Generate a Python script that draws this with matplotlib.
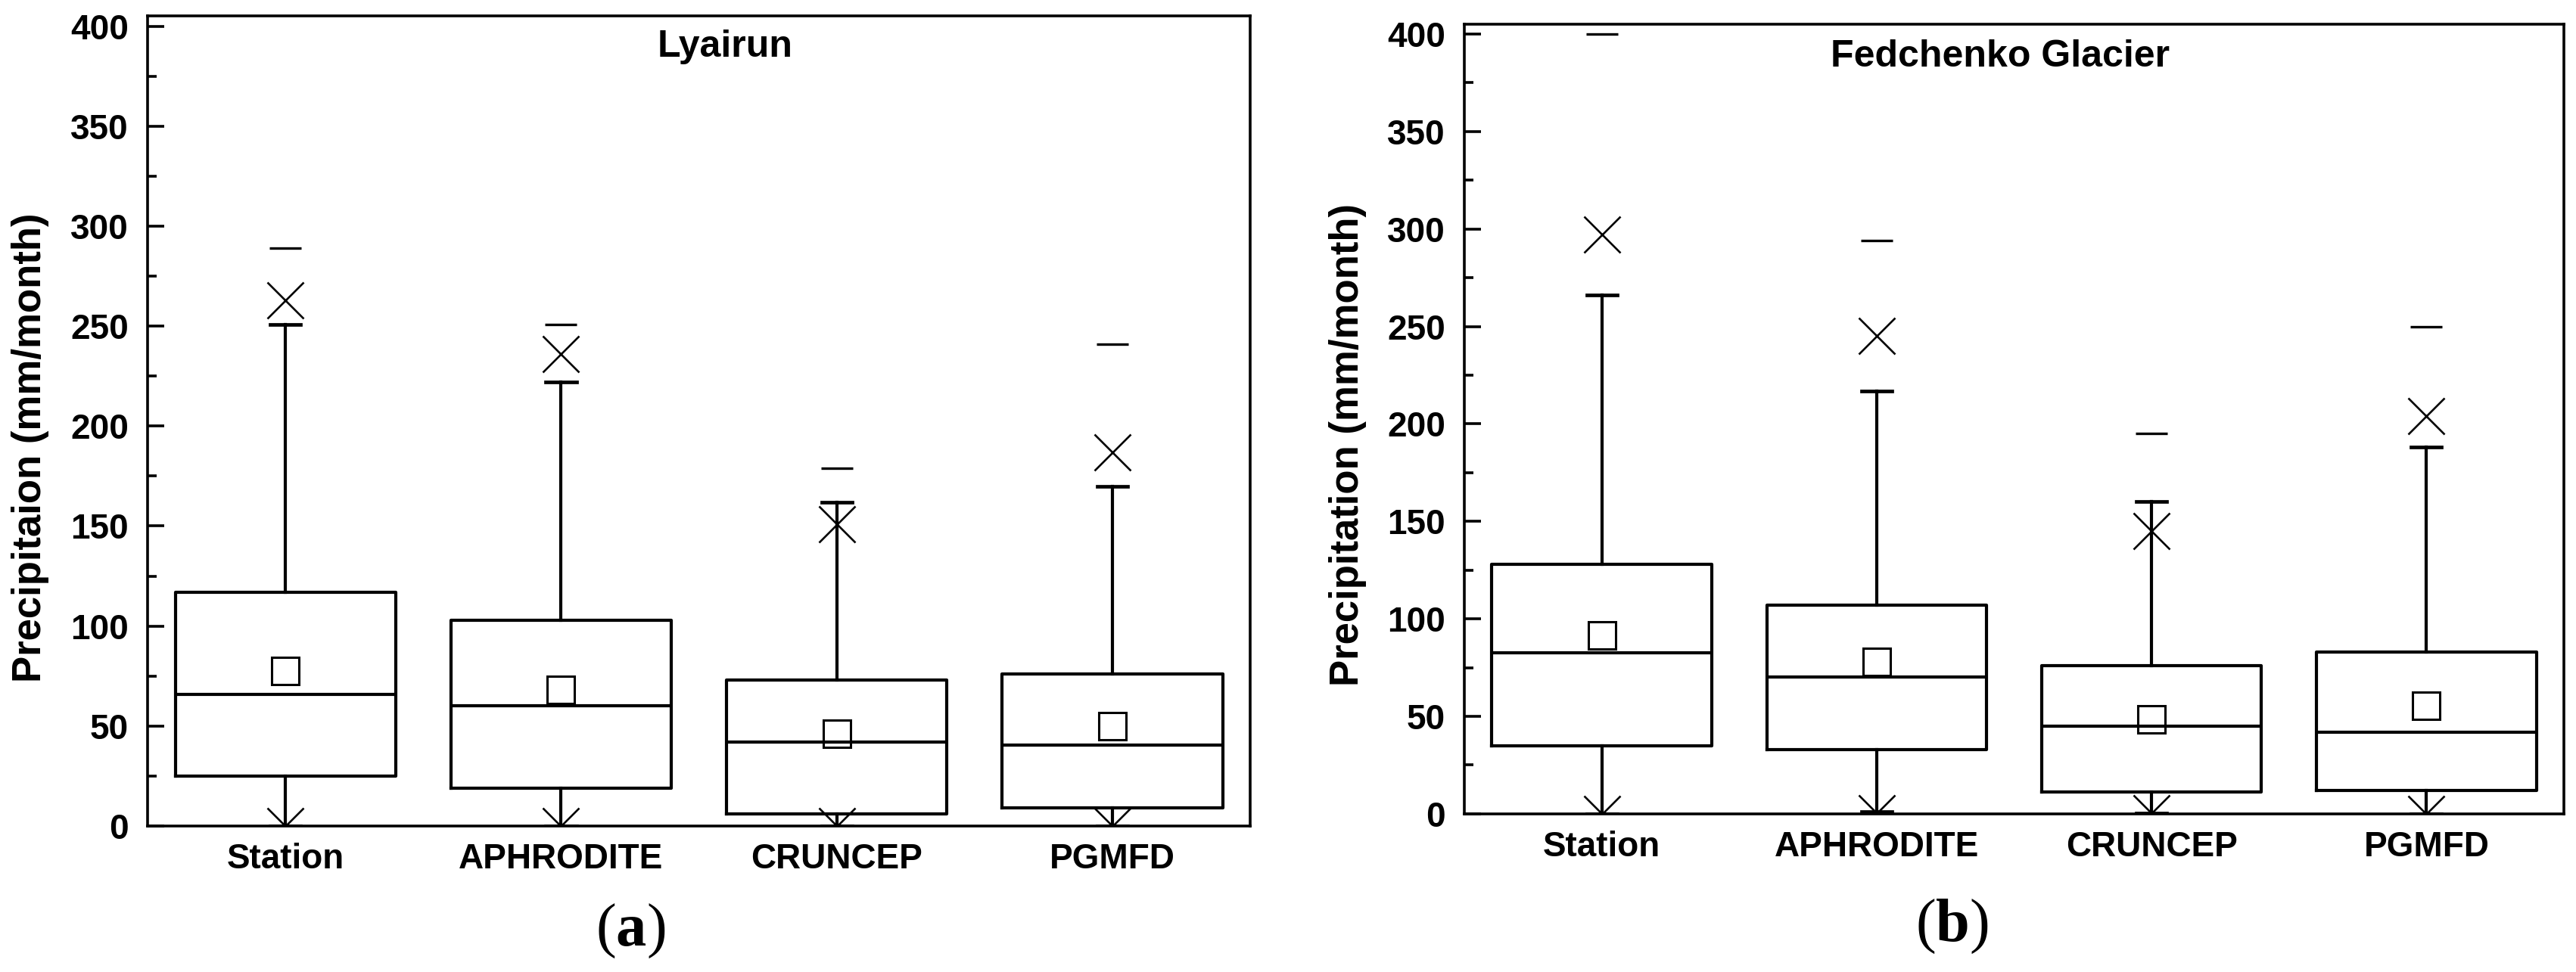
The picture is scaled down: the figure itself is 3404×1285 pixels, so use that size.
import numpy as np
import matplotlib
matplotlib.use("Agg")
import matplotlib.pyplot as plt
from matplotlib.ticker import MultipleLocator

# data (mm/month)
categories = ["Station", "APHRODITE", "CRUNCEP", "PGMFD"]

# (a) Lyairun
lya_q1 = [25, 19, 6, 9]
lya_med = [66, 60, 42, 40.5]
lya_q3 = [117, 103, 73, 76]
lya_mean = [77.5, 68, 46, 50]
lya_whislo = [0, 0, 0, 0]
lya_whishi = [251, 222, 162, 170]
lya_p01 = [0, 0, 0, 0]
lya_p99 = [263, 236, 151, 187]
lya_min = [0, 0, 0, 0]
lya_max = [289, 251, 179, 241]

# (b) Fedchenko Glacier
fed_q1 = [35, 33, 11, 12]
fed_med = [82.5, 70, 45, 42]
fed_q3 = [128, 107, 76, 83]
fed_mean = [91.5, 78, 48.5, 55.5]
fed_whislo = [0, 1, 0.5, 0]
fed_whishi = [266, 217, 160, 188]
fed_p01 = [0, 0.5, 0.5, 0]
fed_p99 = [297, 245, 145, 204]
fed_min = [0, 0.5, 0, 0]
fed_max = [400, 294, 195, 250]

plt.rcParams["font.family"] = ["Liberation Sans", "DejaVu Sans"]
plt.rcParams["font.weight"] = "bold"
plt.rcParams["mathtext.fontset"] = "custom"
plt.rcParams["mathtext.rm"] = "Liberation Serif"
plt.rcParams["mathtext.bf"] = "Liberation Serif:bold"


def draw_panel(ax, q1, med, q3, mean, wlo, whi, p01, p99, vmin, vmax,
               title, title_x, title_y, ylabel):
    pos = np.arange(1, len(categories) + 1)
    stats = []
    for i in range(len(categories)):
        stats.append(dict(q1=q1[i], med=med[i], q3=q3[i], mean=mean[i],
                          whislo=wlo[i], whishi=whi[i], fliers=[]))
    ax.bxp(stats, positions=pos, widths=0.8, showmeans=True, showfliers=False,
           capwidths=0.11,
           boxprops=dict(lw=3.0, color="k"),
           medianprops=dict(lw=3.0, color="k"),
           whiskerprops=dict(lw=3.0, color="k"),
           capprops=dict(lw=3.4, color="k"),
           meanprops=dict(marker="s", ms=26, mfc="none", mec="k", mew=2.2))
    # 1st / 99th percentiles and min / max
    ax.plot(pos, p99, ls="none", marker="x", ms=34, mew=1.9, color="k")
    ax.plot(pos, p01, ls="none", marker="x", ms=34, mew=1.9, color="k")
    ax.plot(pos, vmax, ls="none", marker="_", ms=30, mew=2.4, color="k")
    ax.plot(pos, vmin, ls="none", marker="_", ms=30, mew=2.4, color="k")

    ax.set_xlim(0.5, len(categories) + 0.5)
    ax.set_ylim(0, 405)
    ax.set_xticks(pos)
    ax.set_xticklabels(categories)
    ax.yaxis.set_major_locator(MultipleLocator(50))
    ax.yaxis.set_minor_locator(MultipleLocator(25))
    ax.tick_params(axis="x", length=0, labelsize=33, pad=16)
    ax.tick_params(axis="y", which="major", direction="in", length=16,
                   width=2.6, labelsize=33, pad=18, right=False)
    ax.tick_params(axis="y", which="minor", direction="in", length=8.5,
                   width=2.6, right=False)
    for s in ax.spines.values():
        s.set_linewidth(2.6)
    ax.set_ylabel(ylabel, fontsize=38, fontweight="bold")
    ax.yaxis.set_label_coords(-0.089, 0.467)
    ax.text(title_x, title_y, title, transform=ax.transAxes, ha="center",
            va="baseline", fontsize=36, fontweight="bold")


fig = plt.figure(figsize=(34.05, 12.85), dpi=100)
ax1 = fig.add_axes([0.0573, 0.1502, 0.4279, 0.8331])
ax2 = fig.add_axes([0.5683, 0.1628, 0.4267, 0.8122])

draw_panel(ax1, lya_q1, lya_med, lya_q3, lya_mean, lya_whislo, lya_whishi,
           lya_p01, lya_p99, lya_min, lya_max,
           "Lyairun", 0.524, 0.950, "Precipitaion (mm/month)")
draw_panel(ax2, fed_q1, fed_med, fed_q3, fed_mean, fed_whislo, fed_whishi,
           fed_p01, fed_p99, fed_min, fed_max,
           "Fedchenko Glacier", 0.487, 0.946, "Precipitation (mm/month)")

fig.text(0.2446, 0.042, r"($\mathbf{a}$)", ha="center", va="center",
         fontsize=58, family="Liberation Serif", fontweight="normal")
fig.text(0.7574, 0.047, r"($\mathbf{b}$)", ha="center", va="center",
         fontsize=58, family="Liberation Serif", fontweight="normal")

fig.savefig("out.png", dpi=100)
